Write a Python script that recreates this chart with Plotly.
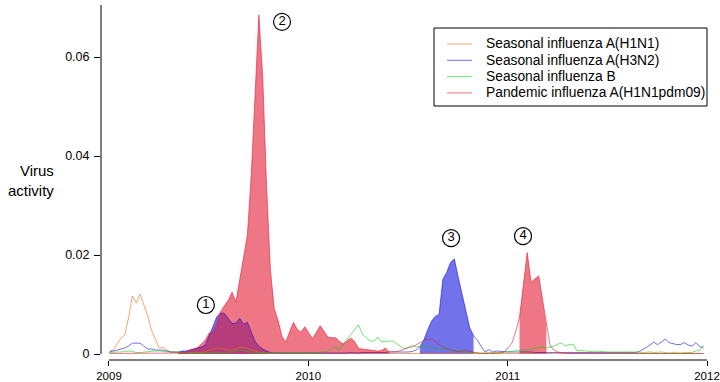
import numpy as np
import plotly.graph_objects as go

# Weekly surveillance, first week of 2009 through the last week of 2011
week_index = np.arange(156)
weeks = 2009 + (week_index + 0.1) / 52.0

h1n1_seasonal = [
    0.0006, 0.0008, 0.0020, 0.0032, 0.0038, 0.0073, 0.0117, 0.0103, 0.0121, 0.0101,
    0.0077, 0.0048, 0.0028, 0.0012, 0.0014, 0.0008, 0.0004, 0.0004, 0.0002, 0.0002,
    0.0002, 0.0002, 0.0002, 0.0002, 0.0003, 0.0004, 0.0008, 0.0008, 0.0012, 0.0012,
    0.0010, 0.0008, 0.0008, 0.0010, 0.0014, 0.0012, 0.0012, 0.0008, 0.0006, 0.0004,
    0.0002, 0.0002, 0.0001, 0.0001, 0.0001, 0.0001, 0.0001, 0.0001, 0.0001, 0.0001,
    0.0001, 0.0001, 0.0001, 0.0001, 0.0001, 0.0001, 0.0001, 0.0001, 0.0001, 0.0001,
    0.0001, 0.0001, 0.0001, 0.0001, 0.0001, 0.0001, 0.0001, 0.0001, 0.0001, 0.0001,
    0.0001, 0.0001, 0.0001, 0.0001, 0.0001, 0.0001, 0.0001, 0.0001, 0.0001, 0.0001,
    0.0001, 0.0001, 0.0001, 0.0001, 0.0001, 0.0001, 0.0001, 0.0001, 0.0001, 0.0001,
    0.0001, 0.0001, 0.0001, 0.0001, 0.0001, 0.0001, 0.0001, 0.0001, 0.0001, 0.0001,
    0.0001, 0.0001, 0.0001, 0.0001, 0.0001, 0.0001, 0.0001, 0.0001, 0.0001, 0.0001,
    0.0001, 0.0001, 0.0001, 0.0001, 0.0001, 0.0001, 0.0001, 0.0001, 0.0001, 0.0001,
    0.0001, 0.0001, 0.0001, 0.0001, 0.0001, 0.0001, 0.0001, 0.0001, 0.0001, 0.0001,
    0.0001, 0.0001, 0.0001, 0.0001, 0.0001, 0.0001, 0.0001, 0.0001, 0.0001, 0.0001,
    0.0001, 0.0001, 0.0001, 0.0001, 0.0001, 0.0001, 0.0001, 0.0001, 0.0001, 0.0001,
    0.0001, 0.0001, 0.0001, 0.0001, 0.0001, 0.0001,
]

h3n2 = [
    0.0004, 0.0006, 0.0008, 0.0010, 0.0012, 0.0016, 0.0022, 0.0022, 0.0022, 0.0016,
    0.0010, 0.0010, 0.0008, 0.0008, 0.0008, 0.0006, 0.0004, 0.0004, 0.0004, 0.0006,
    0.0006, 0.0008, 0.0010, 0.0012, 0.0014, 0.0018, 0.0035, 0.0055, 0.0075, 0.0083,
    0.0082, 0.0072, 0.0062, 0.0062, 0.0072, 0.0060, 0.0064, 0.0045, 0.0026, 0.0016,
    0.0010, 0.0006, 0.0003, 0.0002, 0.0002, 0.0002, 0.0001, 0.0002, 0.0002, 0.0002,
    0.0002, 0.0002, 0.0002, 0.0001, 0.0002, 0.0002, 0.0002, 0.0002, 0.0002, 0.0002,
    0.0002, 0.0002, 0.0002, 0.0003, 0.0002, 0.0002, 0.0003, 0.0003, 0.0002, 0.0003,
    0.0003, 0.0003, 0.0003, 0.0004, 0.0004, 0.0004, 0.0003, 0.0004, 0.0004, 0.0005,
    0.0008, 0.0014, 0.0028, 0.0048, 0.0066, 0.0076, 0.0080, 0.0151, 0.0165, 0.0185,
    0.0192, 0.0155, 0.0120, 0.0085, 0.0053, 0.0037, 0.0028, 0.0015, 0.0004, 0.0009,
    0.0004, 0.0006, 0.0005, 0.0004, 0.0004, 0.0004, 0.0004, 0.0005, 0.0004, 0.0004,
    0.0004, 0.0003, 0.0003, 0.0003, 0.0002, 0.0002, 0.0002, 0.0002, 0.0002, 0.0002,
    0.0002, 0.0002, 0.0002, 0.0002, 0.0002, 0.0003, 0.0002, 0.0003, 0.0003, 0.0003,
    0.0003, 0.0003, 0.0002, 0.0003, 0.0003, 0.0003, 0.0002, 0.0003, 0.0004, 0.0008,
    0.0013, 0.0018, 0.0024, 0.0019, 0.0024, 0.0030, 0.0023, 0.0021, 0.0019, 0.0019,
    0.0023, 0.0018, 0.0016, 0.0023, 0.0015, 0.0012,
]

influenza_b = [
    0.0003, 0.0004, 0.0004, 0.0004, 0.0005, 0.0006, 0.0005, 0.0003, 0.0003, 0.0004,
    0.0004, 0.0005, 0.0006, 0.0006, 0.0005, 0.0004, 0.0004, 0.0004, 0.0004, 0.0003,
    0.0003, 0.0003, 0.0003, 0.0002, 0.0002, 0.0002, 0.0002, 0.0003, 0.0002, 0.0003,
    0.0003, 0.0004, 0.0004, 0.0006, 0.0008, 0.0007, 0.0005, 0.0004, 0.0003, 0.0002,
    0.0002, 0.0002, 0.0001, 0.0001, 0.0001, 0.0001, 0.0001, 0.0001, 0.0002, 0.0002,
    0.0002, 0.0002, 0.0002, 0.0002, 0.0002, 0.0004, 0.0004, 0.0006, 0.0012, 0.0014,
    0.0008, 0.0020, 0.0030, 0.0038, 0.0050, 0.0059, 0.0040, 0.0032, 0.0026, 0.0026,
    0.0034, 0.0025, 0.0026, 0.0026, 0.0026, 0.0020, 0.0015, 0.0011, 0.0013, 0.0018,
    0.0014, 0.0016, 0.0016, 0.0014, 0.0012, 0.0012, 0.0011, 0.0010, 0.0009, 0.0007,
    0.0006, 0.0005, 0.0004, 0.0004, 0.0003, 0.0003, 0.0002, 0.0002, 0.0002, 0.0002,
    0.0002, 0.0002, 0.0003, 0.0004, 0.0004, 0.0005, 0.0007, 0.0008, 0.0008, 0.0008,
    0.0009, 0.0011, 0.0013, 0.0014, 0.0012, 0.0014, 0.0016, 0.0020, 0.0022, 0.0016,
    0.0019, 0.0020, 0.0006, 0.0007, 0.0006, 0.0005, 0.0005, 0.0006, 0.0005, 0.0004,
    0.0004, 0.0004, 0.0004, 0.0004, 0.0005, 0.0004, 0.0004, 0.0004, 0.0004, 0.0003,
    0.0004, 0.0004, 0.0003, 0.0004, 0.0004, 0.0003, 0.0002, 0.0003, 0.0002, 0.0002,
    0.0003, 0.0003, 0.0003, 0.0006, 0.0008, 0.0018,
]

h1n1_pdm09 = [
    0.0001, 0.0001, 0.0001, 0.0001, 0.0001, 0.0001, 0.0001, 0.0001, 0.0001, 0.0001,
    0.0001, 0.0001, 0.0001, 0.0001, 0.0001, 0.0001, 0.0001, 0.0002, 0.0002, 0.0002,
    0.0004, 0.0008, 0.0010, 0.0013, 0.0020, 0.0028, 0.0042, 0.0044, 0.0062, 0.0085,
    0.0098, 0.0108, 0.0125, 0.0105, 0.0150, 0.0198, 0.0240, 0.0360, 0.0540, 0.0685,
    0.0560, 0.0340, 0.0170, 0.0092, 0.0068, 0.0036, 0.0024, 0.0045, 0.0064, 0.0050,
    0.0044, 0.0055, 0.0042, 0.0031, 0.0044, 0.0057, 0.0046, 0.0034, 0.0033, 0.0033,
    0.0026, 0.0020, 0.0027, 0.0032, 0.0025, 0.0011, 0.0010, 0.0009, 0.0008, 0.0007,
    0.0006, 0.0007, 0.0012, 0.0004, 0.0004, 0.0005, 0.0007, 0.0010, 0.0013, 0.0014,
    0.0018, 0.0022, 0.0027, 0.0029, 0.0030, 0.0025, 0.0019, 0.0014, 0.0011, 0.0009,
    0.0006, 0.0004, 0.0006, 0.0008, 0.0005, 0.0003, 0.0002, 0.0001, 0.0001, 0.0001,
    0.0001, 0.0002, 0.0002, 0.0004, 0.0012, 0.0022, 0.0045, 0.0075, 0.0140, 0.0205,
    0.0145, 0.0152, 0.0158, 0.0110, 0.0058, 0.0016, 0.0008, 0.0004, 0.0002, 0.0001,
    0.0001, 0.0001, 0.0001, 0.0001, 0.0001, 0.0001, 0.0001, 0.0001, 0.0001, 0.0001,
    0.0001, 0.0001, 0.0001, 0.0001, 0.0001, 0.0001, 0.0001, 0.0001, 0.0001, 0.0001,
    0.0001, 0.0001, 0.0001, 0.0001, 0.0001, 0.0001, 0.0001, 0.0001, 0.0001, 0.0001,
    0.0001, 0.0001, 0.0001, 0.0001, 0.0001, 0.0001,
]

series_names = [
    "Seasonal influenza A(H1N1)",
    "Seasonal influenza A(H3N2)",
    "Seasonal influenza B",
    "Pandemic influenza A(H1N1pdm09)",
]

# Epidemic periods shaded under the dominant strain (week index ranges, inclusive)
h3n2_epidemics = [(18, 42), (81, 95)]
pdm09_epidemics = [(18, 73), (107, 114)]

# Numbered epidemic markers
epidemic_labels = ["1", "2", "3", "4"]
label_x = [2009.486, 2009.868, 2010.716, 2011.077]
label_y = [0.0099, 0.0671, 0.0234, 0.0238]

year_ticks = [2009, 2010, 2011, 2012]
y_ticks = [0, 0.02, 0.04, 0.06]
y_ticktext = ["0", "0.02", "0.04", "0.06"]

FONT = "Liberation Sans, Arial, Helvetica, sans-serif"
ORANGE = "rgba(238,110,20,0.6)"
BLUE = "rgba(20,20,220,0.6)"
GREEN = "rgba(0,205,0,0.55)"
RED = "rgba(228,26,50,0.6)"
series_colors = [ORANGE, BLUE, GREEN, RED]

W, H = 720, 382
M_L, M_R, M_T, M_B = 101, 5, 5, 22
PLOT_W = W - M_L - M_R
PLOT_H = H - M_T - M_B
X_RANGE = [2008.9599, 2012.0401]
Y_RANGE = [-0.0012121, 0.070505]


def px_to_paper_x(px):
    return (px - M_L) / PLOT_W


def px_to_paper_y(py):
    return (H - M_B - py) / PLOT_H


fig = go.Figure()

h3n2_arr = np.array(h3n2)
pdm_arr = np.array(h1n1_pdm09)

for a, b in h3n2_epidemics:
    fig.add_trace(go.Scatter(
        x=weeks[a:b + 1], y=h3n2_arr[a:b + 1], mode="lines",
        line=dict(width=0, color=BLUE), fill="tozeroy", fillcolor=BLUE,
        showlegend=False, hoverinfo="skip"))

for a, b in pdm09_epidemics:
    fig.add_trace(go.Scatter(
        x=weeks[a:b + 1], y=pdm_arr[a:b + 1], mode="lines",
        line=dict(width=0, color=RED), fill="tozeroy", fillcolor=RED,
        showlegend=False, hoverinfo="skip"))

for name, vals, col in zip(series_names,
                           [h1n1_seasonal, h3n2, influenza_b, h1n1_pdm09],
                           series_colors):
    fig.add_trace(go.Scatter(x=weeks, y=vals, mode="lines", name=name,
                             line=dict(color=col, width=1), showlegend=False))

fig.add_trace(go.Scatter(
    x=label_x, y=label_y, mode="markers+text", text=epidemic_labels,
    textposition="middle center",
    textfont=dict(family=FONT, size=13, color="black"),
    marker=dict(size=17, color="white", line=dict(color="black", width=1.2)),
    showlegend=False, hoverinfo="skip"))

# Detached axis lines, base-graphics style
fig.add_shape(type="line", xref="x", yref="paper", x0=year_ticks[0], x1=year_ticks[-1],
              y0=0, y1=0, line=dict(color="black", width=1))
fig.add_shape(type="line", xref="paper", yref="y", x0=0, x1=0,
              y0=0, y1=Y_RANGE[1], line=dict(color="black", width=1))

fig.add_annotation(text="Virus<br>activity", xref="paper", yref="paper",
                   x=px_to_paper_x(56), y=px_to_paper_y(180),
                   xanchor="right", yanchor="middle",
                   align="right", showarrow=False,
                   font=dict(family=FONT, size=15, color="black"))

# Legend box with line keys
fig.add_shape(type="rect", xref="paper", yref="paper",
              x0=px_to_paper_x(434), x1=px_to_paper_x(707),
              y0=px_to_paper_y(106), y1=px_to_paper_y(28),
              line=dict(color="black", width=1), fillcolor="white", layer="above")
for k, (name, col) in enumerate(zip(series_names, series_colors)):
    row_y = px_to_paper_y(44 + 16.3 * k)
    fig.add_shape(type="line", xref="paper", yref="paper",
                  x0=px_to_paper_x(447), x1=px_to_paper_x(472),
                  y0=row_y, y1=row_y, line=dict(color=col, width=1), layer="above")
    fig.add_annotation(text=name, xref="paper", yref="paper",
                       x=px_to_paper_x(484), y=row_y, xanchor="left",
                       yanchor="middle", showarrow=False,
                       font=dict(family=FONT, size=13.8, color="black"))

fig.update_layout(
    width=W, height=H,
    margin=dict(l=M_L, r=M_R, t=M_T, b=M_B, pad=0, autoexpand=False),
    paper_bgcolor="white", plot_bgcolor="white",
    font=dict(family=FONT, color="black"),
    showlegend=False,
    xaxis=dict(range=X_RANGE, showgrid=False, zeroline=False, showline=False,
               automargin=False,
               tickmode="array", tickvals=year_ticks,
               ticktext=[str(t) for t in year_ticks],
               ticks="outside", ticklen=5, tickcolor="black", tickwidth=1,
               ticklabelstandoff=0, ticklabeloverflow="allow",
               tickfont=dict(family=FONT, size=11.5, color="black")),
    yaxis=dict(range=Y_RANGE, showgrid=False, zeroline=False, showline=False,
               automargin=False,
               tickmode="array", tickvals=y_ticks, ticktext=y_ticktext,
               ticks="outside", ticklen=6, tickcolor="black", tickwidth=1,
               ticklabelstandoff=2,
               tickfont=dict(family=FONT, size=12.5, color="black")),
)

fig.write_html("out.html")
